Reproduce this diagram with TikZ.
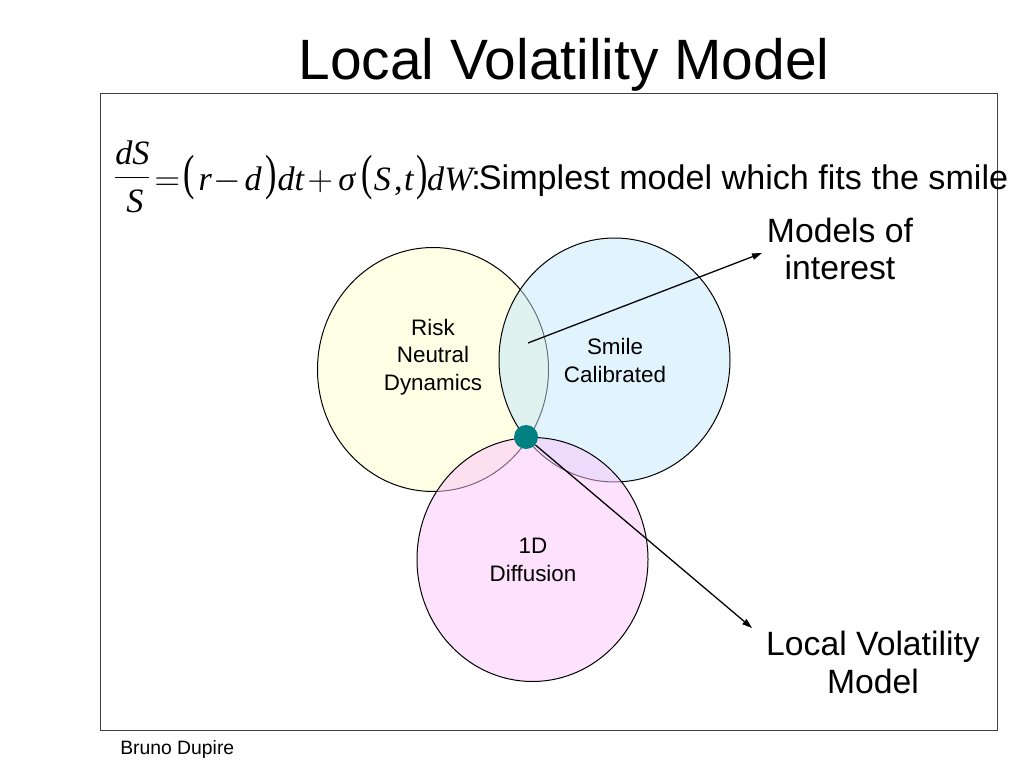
\documentclass[tikz,border=0pt]{standalone}
\usepackage{fontspec}
\setmainfont{Liberation Sans}
\newfontfamily\tnr{Liberation Serif}
\usetikzlibrary{shapes.geometric,arrows.meta}
\definecolor{cyel}{HTML}{FFFFE5}
\definecolor{cblu}{HTML}{C3E7FB}
\definecolor{cpnk}{HTML}{FBC3FB}
\definecolor{cteal}{HTML}{008080}
\definecolor{cframe}{HTML}{404040}
\newlength\pxu \setlength\pxu{0.703125pt}
\newcommand\atx[2]{\rlap{\kern#1\pxu\kern-113\pxu\makebox[0pt]{#2}}}
\newcommand\tparL{\raisebox{0.05em}{\scalebox{1}[1.45]{(}}}
\newcommand\tparR{\raisebox{0.05em}{\scalebox{1}[1.45]{)}}}
\begin{document}
\begin{tikzpicture}[x=0.703125pt,y=-0.703125pt,
  every node/.append style={inner sep=0pt},
  venn/.style={ellipse,draw=black,line width=0.7pt,minimum width=231*0.703125pt,minimum height=244*0.703125pt},
  lab/.style={align=center,font=\fontsize{15.75}{19}\selectfont,anchor=base},
  big/.style={align=center,font=\fontsize{23.7}{26.7}\selectfont,anchor=base},
  arr/.style={-{Triangle[length=7pt,width=4.5pt]},line width=0.9pt}
]
\useasboundingbox (0,0) rectangle (1024,768);
\node[anchor=base,font=\fontsize{40}{48}\selectfont] (title) at (564,80) {Local Volatility Model};
\node[draw=cframe,line width=0.8pt,minimum width=897*0.703125pt,minimum height=637*0.703125pt,anchor=north west] (frame) at (100,93) {};
% formula
\node[anchor=base west,font=\tnr\fontsize{24}{28}\selectfont] (eq) at (113,191)
  {\rlap{\kern2\pxu\raisebox{26\pxu}{\textit{dS}}}\rlap{\kern2\pxu\rule[13.5\pxu]{34\pxu}{0.7pt}}\rlap{\kern13\pxu\raisebox{-22\pxu}{\textit{S}}}%
   \atx{167}{$=$}\atx{189}{\tparL}\atx{205}{\textit{r}}\atx{227}{$-$}%
   \atx{253}{\textit{d}}\atx{271}{\tparR}\atx{291}{\textit{dt}}\atx{320}{$+$}%
   \atx{347}{\textit{σ}}\atx{367}{\tparL}\atx{382}{\textit{S}}\atx{398}{,}%
   \atx{409}{\textit{t}}\atx{422}{\tparR}\atx{451}{\textit{dW}}\kern355\pxu};
\node[anchor=base west,font=\fontsize{24}{28}\selectfont] (simp) at (471,190) {:\kern-1.3pt Simplest model which fits the smile};
% circles
\node[venn,fill=cyel] (rn) at (433,369.5) {};
\node[venn,fill=cblu,fill opacity=0.5] (sc) at (614.5,360) {};
\node[venn,fill=cpnk,fill opacity=0.5] (dif) at (532.5,559.5) {};
\node[lab] (rnl) at (433,390) {Risk\\Neutral\\Dynamics};
\node[lab] (scl) at (615,382) {Smile\\Calibrated};
\node[lab] (difl) at (533,581) {1D\\Diffusion};
% labels
\node[big] (moi) at (840,280) {Models of\\interest};
\node[big] (lvm) at (873,693) {Local Volatility\\Model};
\coordinate (mstart) at (528,343);
\coordinate (mtip) at (762,253);
\coordinate (lvtip) at (752,628);
\node[circle,fill=cteal,minimum size=24*0.703125pt] (dot) at (526,437) {};
\draw[arr] (mstart) -- (mtip);
\draw[arr] (dot) -- (lvtip);
\node[anchor=base west,font=\fontsize{13.6}{16}\selectfont] (auth) at (120,754) {Bruno Dupire};
\end{tikzpicture}
\end{document}
